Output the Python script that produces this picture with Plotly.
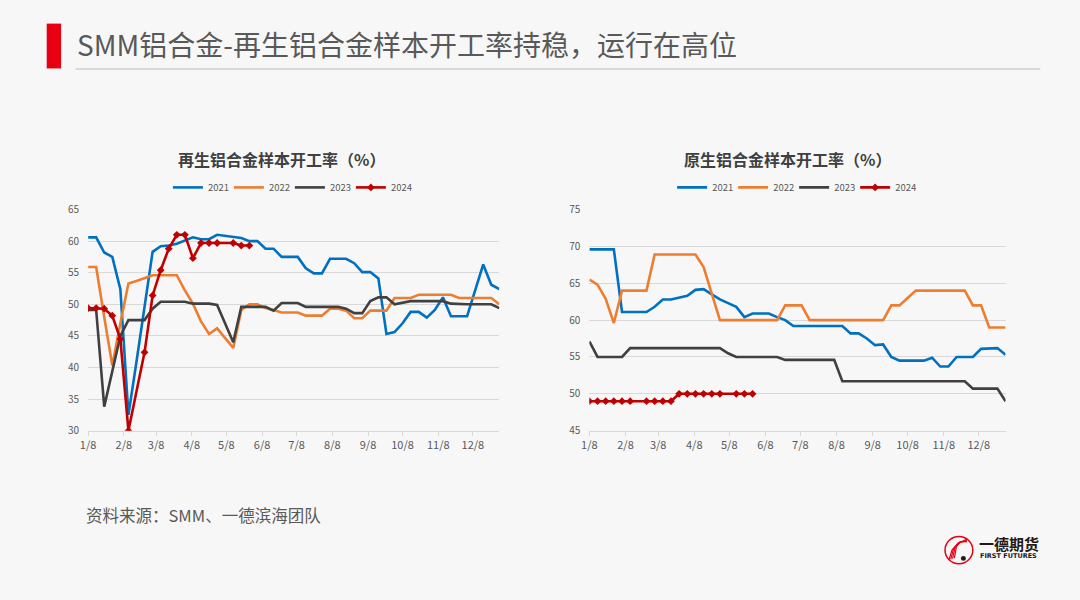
import pandas as pd
import plotly.graph_objects as go

W, H = 1080, 600

# ---------------- data ----------------
weeks = pd.date_range("2023-01-08", periods=52, freq="7D")
series_names = ["2021", "2022", "2023", "2024"]

rec_2021 = [60.6, 60.6, 58.2, 57.5, 52.4, 32.5, 40.9, 49.8, 58.3, 59.2,
            59.3, 59.6, 60.1, 60.6, 60.3, 60.3, 61.0, 60.8, 60.6, 60.5,
            60.0, 60.0, 58.8, 58.8, 57.5, 57.5, 57.5, 55.7, 54.9, 54.9,
            57.2, 57.2, 57.2, 56.5, 55.1, 55.1, 54.1, 45.3, 45.6, 47.0,
            48.8, 48.8, 47.9, 49.1, 51.1, 48.1, 48.1, 48.1, 52.2, 56.3,
            53.1, 52.4]
rec_2022 = [55.9, 55.9, 48.0, 40.3, 47.0, 53.3, 53.7, 54.2, 54.6, 54.6,
            54.6, 54.6, 52.2, 50.1, 47.3, 45.3, 46.2, 44.6, 43.1, 49.1,
            50.0, 50.0, 49.4, 49.1, 48.7, 48.7, 48.7, 48.2, 48.2, 48.2,
            49.3, 49.3, 49.0, 47.8, 47.8, 49.0, 49.0, 49.0, 51.0, 51.0,
            51.0, 51.5, 51.5, 51.5, 51.5, 51.5, 51.0, 51.0, 51.0, 51.0,
            51.0, 50.0]
rec_2023 = [49.1, 49.1, 33.8, 39.3, 45.0, 47.5, 47.5, 47.5, 49.3, 50.4,
            50.4, 50.4, 50.4, 50.1, 50.1, 50.1, 49.9, 47.0, 44.0, 49.6,
            49.6, 49.6, 49.6, 49.0, 50.2, 50.2, 50.2, 49.6, 49.6, 49.6,
            49.6, 49.6, 49.3, 48.6, 48.6, 50.5, 51.1, 51.1, 50.0, 50.2,
            50.5, 50.5, 50.5, 50.5, 50.5, 50.1, 50.0, 50.0, 50.0, 50.0,
            50.0, 49.4]
rec_2024 = [49.4, 49.4, 49.3, 48.2, 44.5, 30.0, None, 42.4, 51.4, 55.4,
            58.8, 61.0, 61.0, 57.3, 59.7, 59.7, 59.7, None, 59.7, 59.3,
            59.3]

pri_2021 = [69.6, 69.6, 69.6, 69.6, 61.1, 61.1, 61.1, 61.1, 61.8, 62.8,
            62.8, 63.0, 63.3, 64.1, 64.2, 63.5, 62.8, 62.3, 61.8, 60.4,
            60.9, 60.9, 60.9, 60.4, 60.0, 59.2, 59.2, 59.2, 59.2, 59.2,
            59.2, 59.2, 58.2, 58.2, 57.5, 56.6, 56.7, 55.0, 54.5, 54.5,
            54.5, 54.5, 54.9, 53.7, 53.7, 55.0, 55.0, 55.0, 56.1, 56.1,
            56.2, 55.3]
pri_2022 = [65.5, 64.8, 62.9, 59.6, 64.0, 64.0, 64.0, 64.0, 68.9, 68.9,
            68.9, 68.9, 68.9, 68.9, 67.2, 63.6, 60.0, 60.0, 60.0, 60.0,
            60.0, 60.0, 60.0, 60.0, 62.0, 62.0, 62.0, 60.0, 60.0, 60.0,
            60.0, 60.0, 60.0, 60.0, 60.0, 60.0, 60.0, 62.0, 62.0, 63.0,
            64.0, 64.0, 64.0, 64.0, 64.0, 64.0, 64.0, 62.0, 62.0, 59.0,
            59.0, 59.0]
pri_2023 = [57.1, 55.0, 55.0, 55.0, 55.0, 56.2, 56.2, 56.2, 56.2, 56.2,
            56.2, 56.2, 56.2, 56.2, 56.2, 56.2, 56.2, 55.5, 55.0, 55.0,
            55.0, 55.0, 55.0, 55.0, 54.6, 54.6, 54.6, 54.6, 54.6, 54.6,
            54.6, 51.7, 51.7, 51.7, 51.7, 51.7, 51.7, 51.7, 51.7, 51.7,
            51.7, 51.7, 51.7, 51.7, 51.7, 51.7, 51.7, 50.7, 50.7, 50.7,
            50.7, 49.0]
pri_2024 = [49.0, 49.0, 49.0, 49.0, 49.0, 49.0, None, 49.0, 49.0, 49.0,
            49.0, 50.0, 50.0, 50.0, 50.0, 50.0, 50.0, None, 50.0, 50.0,
            50.0]

left_title = "再生铝合金样本开工率（%）"
right_title = "原生铝合金样本开工率（%）"
main_title = "SMM铝合金-再生铝合金样本开工率持稳，运行在高位"
source_text = "资料来源：SMM、一德滨海团队"

colors = ["#0070C0", "#ED7D31", "#404040", "#C00000"]
FONT = "Noto Sans CJK SC, Microsoft YaHei, sans-serif"


def px(x):
    return x / W


def py(y):
    return 1 - y / H


fig = go.Figure()

panels = [
    ("x", "y", "legend", [rec_2021, rec_2022, rec_2023, rec_2024]),
    ("x2", "y2", "legend2", [pri_2021, pri_2022, pri_2023, pri_2024]),
]
for xa, ya, lg, data in panels:
    for name, vals, col in zip(series_names, data, colors):
        is24 = name == "2024"
        fig.add_trace(go.Scatter(
            x=weeks[:len(vals)], y=vals, name=name,
            xaxis=xa, yaxis=ya, legend=lg,
            mode="lines+markers" if is24 else "lines",
            connectgaps=True,
            line=dict(color=col, width=2.6),
            marker=dict(symbol="diamond", size=6, color=col),
        ))

xcommon = dict(
    type="date", tick0="2023-01-08", dtick="M1", tickformat="%-m/%-d",
    range=["2023-01-08", "2023-12-31"],
    showgrid=False, showline=True, linecolor="#d9d9d9", linewidth=1,
    ticks="outside", ticklen=4, tickcolor="#d9d9d9",
    tickfont=dict(size=11, color="#595959", family=FONT),
    zeroline=False, fixedrange=True,
)
ycommon = dict(
    dtick=5, showgrid=True, gridcolor="#d9d9d9", gridwidth=1,
    showline=False, zeroline=False, ticks="",
    tickfont=dict(size=10, color="#595959", family=FONT),
    ticklabelstandoff=8, fixedrange=True,
)

legend_common = dict(orientation="h", yanchor="middle", xanchor="center",
                     font=dict(size=9.5, color="#595959", family=FONT),
                     bgcolor="rgba(0,0,0,0)", itemwidth=30,
                     entrywidth=16, entrywidthmode="pixels")

fig.update_layout(
    width=W, height=H,
    margin=dict(l=0, r=0, t=0, b=0),
    paper_bgcolor="#F7F7F7", plot_bgcolor="#F7F7F7",
    font=dict(family=FONT, color="#595959"),
    xaxis=dict(domain=[px(80.7), px(495)], anchor="y", **xcommon),
    yaxis=dict(domain=[py(433.5), py(206.7)], anchor="x", range=[30, 65], **ycommon),
    xaxis2=dict(domain=[px(585.7), px(1005)], anchor="y2", **xcommon),
    yaxis2=dict(domain=[py(433.5), py(206.7)], anchor="x2", range=[45, 75], **ycommon),
    legend=dict(x=px(284), y=py(184), **legend_common),
    legend2=dict(x=px(792), y=py(184), **legend_common),
    showlegend=True,
)

annotations = [
    dict(text=main_title, x=px(68), y=py(37), xanchor="left", yanchor="middle",
         font=dict(size=28, color="#595959", family=FONT)),
    dict(text=left_title, x=px(276), y=py(155), xanchor="center", yanchor="middle",
         font=dict(size=16, color="#404040", family=FONT, weight=600)),
    dict(text=right_title, x=px(785), y=py(155), xanchor="center", yanchor="middle",
         font=dict(size=16, color="#404040", family=FONT, weight=600)),
    dict(text=source_text, x=px(77), y=py(520), xanchor="left", yanchor="middle",
         font=dict(size=16.5, color="#595959", family=FONT)),
    dict(text="一德期货", x=px(976), y=py(549), xanchor="left", yanchor="middle",
         font=dict(size=15, color="#231815", family=FONT, weight=700)),
    dict(text="FIRST FUTURES", x=px(977), y=py(562), xanchor="left", yanchor="middle",
         font=dict(size=6.5, color="#231815", family="DejaVu Sans", weight=700)),
]
for a in annotations:
    a.update(xref="paper", yref="paper", showarrow=False)
fig.update_layout(annotations=annotations)

shapes = [
    dict(type="rect", x0=px(39), x1=px(53.5), y0=py(62), y1=py(16),
         fillcolor="#E60012", line=dict(width=0)),
    dict(type="line", x0=px(68), x1=px(1040), y0=py(62.5), y1=py(62.5),
         line=dict(color="#d9d9d9", width=2)),
    # logo icon
    dict(type="circle", x0=px(944), x1=px(972), y0=py(570), y1=py(542),
         line=dict(color="#E60012", width=1.5)),
]


def arc_path(pts):
    return "M " + " L ".join(f"{px(a):.5f},{py(b):.5f}" for a, b in pts)


for off in [0, 3, 6, 9]:
    pts = [(948 + off * 0.6, 566 - off * 0.2), (951 + off * 0.5, 556 - off * 0.4),
           (957 + off * 0.3, 549 - off * 0.2), (966, 545 + off * 0.3)]
    shapes.append(dict(type="path", path=arc_path(pts),
                       line=dict(color="#E60012", width=1.2)))
shapes.append(dict(type="circle", x0=px(960), x1=px(965), y0=py(567), y1=py(562),
                   fillcolor="#231815", line=dict(width=0)))
for s in shapes:
    s.setdefault("xref", "paper")
    s.setdefault("yref", "paper")
fig.update_layout(shapes=shapes)

fig.write_html("out.html",
               config={"displayModeBar": False},
               post_script="document.body.style.margin='0px';"
                           "document.body.style.overflow='hidden';")
